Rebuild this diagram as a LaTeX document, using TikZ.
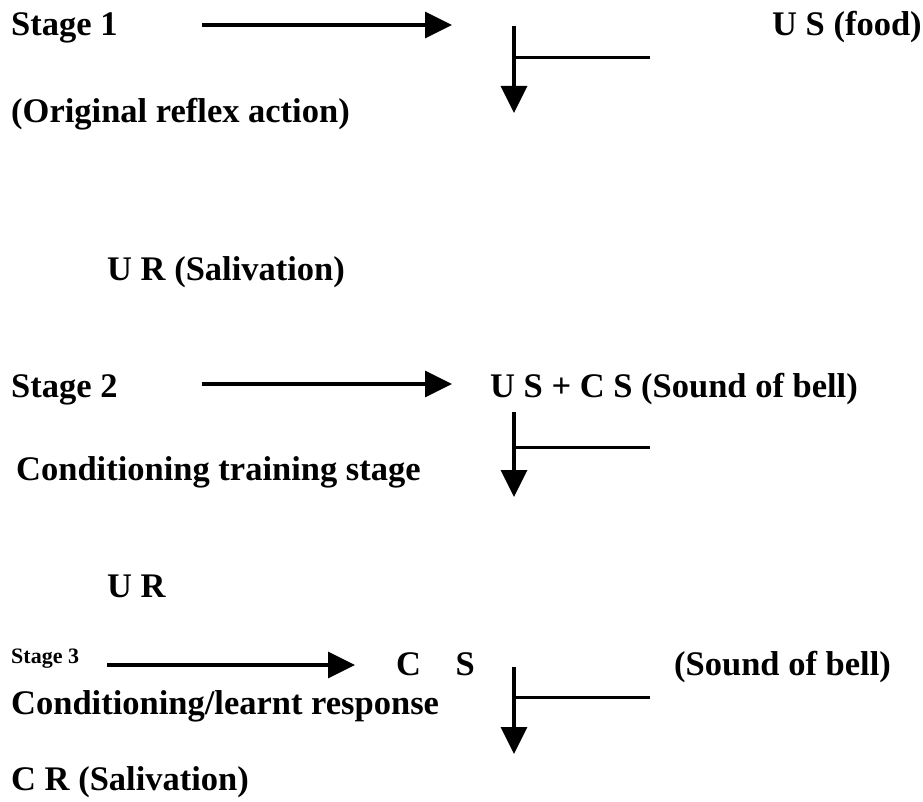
\documentclass[tikz,border=0pt]{standalone}
\usepackage{fontspec}
\setmainfont{Liberation Serif}
\usetikzlibrary{arrows.meta}

\tikzset{
    lbl/.style={font=\bfseries\fontsize{34.5}{40}\selectfont, anchor=base west},
    small lbl/.style={font=\bfseries\fontsize{22}{26}\selectfont, anchor=base west},
    arr/.style={black, line width=3.5pt, -{Triangle[length=27pt,width=26pt]}},
    bar/.style={black, line width=3pt}
}

\begin{document}
\begin{tikzpicture}[x=1pt, y=-1pt]
    \tikzstyle{every node}+=[inner sep=0pt]
    \useasboundingbox (0,0) rectangle (923,802);
    % stage 1
    \node [lbl] (stage1) at (11,36) {Stage 1};
    \node [lbl] (usfood) at (772,36) {U S (food)};
    \node [lbl] (orig) at (11,123) {(Original reflex action)};
    \node [lbl] (ursal) at (107,280) {U R (Salivation)};
    \coordinate (a1from) at (202,25);
    \coordinate (a1to) at (452,25);
    \coordinate (v1top) at (514,26);
    \coordinate (v1tip) at (514,113);
    \coordinate (b1from) at (514,58);
    \coordinate (b1to) at (650,58);
    \draw [arr] (a1from) -- (a1to);
    \draw [arr] (v1top) -- (v1tip);
    \draw [bar] (b1from) -- (b1to);
    % stage 2
    \node [lbl] (stage2) at (11,397) {Stage 2};
    \node [lbl] (uscs) at (490,397) {U S + C S (Sound of bell)};
    \node [lbl] (condtrain) at (16,480) {Conditioning training stage};
    \node [lbl] (ur) at (107,597) {U R};
    \coordinate (a2from) at (202,384);
    \coordinate (a2to) at (452,384);
    \coordinate (v2top) at (514,412);
    \coordinate (v2tip) at (514,497);
    \coordinate (b2from) at (514,447);
    \coordinate (b2to) at (650,447);
    \draw [arr] (a2from) -- (a2to);
    \draw [arr] (v2top) -- (v2tip);
    \draw [bar] (b2from) -- (b2to);
    % stage 3
    \node [small lbl] (stage3) at (11,663) {Stage 3};
    \node [lbl] (cs) at (396,675) {C\quad S};
    \node [lbl] (bell) at (674,675) {(Sound of bell)};
    \node [lbl] (condlearn) at (11,714) {Conditioning/learnt response};
    \node [lbl] (crsal) at (11,790) {C R (Salivation)};
    \coordinate (a3from) at (107,665);
    \coordinate (a3to) at (355,665);
    \coordinate (v3top) at (514,667);
    \coordinate (v3tip) at (514,754);
    \coordinate (b3from) at (514,697);
    \coordinate (b3to) at (650,697);
    \draw [arr] (a3from) -- (a3to);
    \draw [arr] (v3top) -- (v3tip);
    \draw [bar] (b3from) -- (b3to);
\end{tikzpicture}
\end{document}
